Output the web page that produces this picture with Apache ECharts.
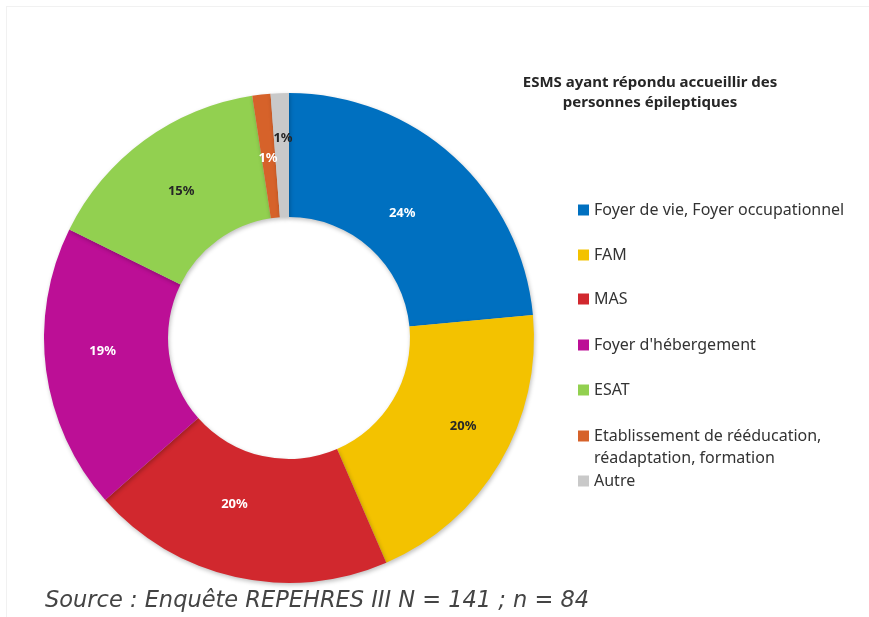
<!DOCTYPE html>
<html>
<head>
<meta charset="utf-8">
<script src="https://cdn.jsdelivr.net/npm/echarts@6/dist/echarts.min.js"></script>
<style>
	html, body { margin: 0; padding: 0; background: #fff; }
	#frame { position: absolute; left: 6px; top: 6px; width: 900px; height: 700px; border-left: 1px solid #f1f1f1; border-top: 1px solid #f1f1f1; }
	#main { position: absolute; left: 0; top: 0; width: 869px; height: 617px; }
</style>
</head>
<body>
<div id="frame"></div>
<div id="main"></div>
<script>
	// categories + parts (% of answers)
	var categories = ['Foyer de vie, Foyer occupationnel', 'FAM', 'MAS', "Foyer d'hébergement", 'ESAT', 'Etablissement de rééducation, réadaptation, formation', 'Autre'];
	var values = [23.5, 20.0, 20.0, 18.8, 15.3, 1.2, 1.2];
	var colors = ['#0070C0', '#F3C200', '#D1282E', '#BC0F96', '#92D050', '#D6622A', '#C9C9C9'];
	var labelColors = ['#fff', '#262626', '#fff', '#fff', '#262626', '#fff', '#262626'];
	// nudges so labels sit where the original ones are
	var labelOffsets = [[-12, 13], [14, -6], [-14, -15], [-2, -11], [2, 3], [0, 5], [1, -14]];

	var chart = echarts.init(document.getElementById('main'));

	var legendTops = [210, 255, 299, 345, 390, 436, 481]; // centre of the icon
	var legends = categories.map(function(name, i) {
		var twoLines = name.indexOf('Etablissement') === 0;
		return {
			data: [name],
			orient: 'vertical',
			left: 578,
			top: twoLines ? legendTops[i] - 33 : legendTops[i] - 11,
			padding: 0,
			itemWidth: 11,
			itemHeight: 11,
			itemGap: 0,
			icon: 'rect',
			selectedMode: false,
			formatter: function(n) {
				// empty first line keeps the icon level with the first text line
				return twoLines ? ' \nEtablissement de rééducation,\nréadaptation, formation' : n;
			},
			textStyle: {
				fontFamily: 'Noto Sans',
				fontSize: 16,
				color: '#333',
				lineHeight: 22
			}
		};
	});

	var option = {
		animation: false,
		color: colors,
		title: {
			text: 'ESMS ayant répondu accueillir des\npersonnes épileptiques',
			left: 650,
			top: 73,
			padding: 0,
			textAlign: 'center',
			textStyle: {
				fontFamily: 'Noto Sans',
				fontSize: 15,
				fontWeight: 'bold',
				color: '#262626',
				lineHeight: 20
			}
		},
		legend: legends,
		series: [{
			type: 'pie',
			center: [289, 338],
			radius: [121, 245],
			startAngle: 90,
			clockwise: true,
			avoidLabelOverlap: false,
			itemStyle: {
				shadowBlur: 4,
				shadowColor: 'rgba(0,0,0,0.25)',
				shadowOffsetX: 1,
				shadowOffsetY: 2
			},
			label: {
				show: true,
				position: 'inside',
				fontFamily: 'Noto Sans',
				fontSize: 13,
				fontWeight: 'bold',
				formatter: function(p) { return Math.round(p.value) + '%'; }
			},
			labelLine: { show: false },
			emphasis: { disabled: true },
			data: categories.map(function(name, i) {
				return {
					name: name,
					value: values[i],
					label: { color: labelColors[i], offset: labelOffsets[i] }
				};
			})
		}],
		graphic: [{
			type: 'text',
			left: 45,
			top: 590,
			style: {
				text: 'Source : Enquête REPEHRES III N = 141 ; n = 84',
				font: 'italic 200 22.5px "DejaVu Sans ExtraLight", "DejaVu Sans"',
				fill: '#444'
			}
		}]
	};
	chart.setOption(option);
</script>
</body>
</html>
